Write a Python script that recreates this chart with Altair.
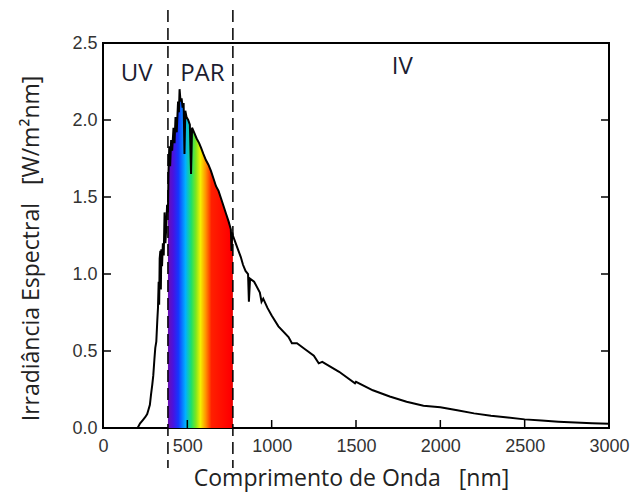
import altair as alt
import pandas as pd

# ---- data ----
wavelength_nm = [205, 220, 235, 250, 262, 270, 278, 285, 292, 298, 305, 310, 316, 322, 326,
                 330, 333, 336, 340, 343, 346, 350, 355, 360, 365, 370, 375, 380, 385, 388,
                 393, 398, 404, 410, 418, 424, 430, 437, 445, 450, 454, 460, 466, 472, 478,
                 483, 488, 495, 505, 515, 522, 528, 540, 555, 570, 581, 595, 610, 625, 640,
                 655, 670, 685, 700, 715, 730, 745, 758, 762, 766, 770, 780, 800, 817, 830,
                 845, 860, 865, 872, 896, 930, 940, 950, 975, 1000, 1040, 1100, 1120, 1150,
                 1200, 1250, 1279, 1300, 1400, 1494, 1500, 1600, 1700, 1800, 1900, 2000,
                 2100, 2200, 2300, 2400, 2500, 2600, 2700, 2800, 2900, 3000]
irradiance = [0.00, 0.03, 0.05, 0.07, 0.09, 0.12, 0.15, 0.22, 0.28, 0.34, 0.45, 0.52, 0.56, 0.70, 0.78,
              0.95, 0.80, 1.10, 1.15, 0.90, 1.16, 1.05, 1.20, 1.12, 1.40, 1.20, 1.30, 1.45, 1.40, 1.65,
              1.83, 1.70, 1.87, 1.80, 1.95, 1.85, 2.02, 1.92, 2.12, 2.05, 2.20, 2.12, 2.14, 2.08, 2.11,
              1.78, 2.06, 2.02, 2.00, 1.97, 1.65, 1.95, 1.92, 1.88, 1.85, 1.82, 1.78, 1.74, 1.71, 1.67,
              1.62, 1.57, 1.54, 1.49, 1.44, 1.39, 1.34, 1.29, 1.15, 1.27, 1.25, 1.22, 1.16, 1.11, 1.06,
              1.02, 1.00, 0.82, 0.97, 0.95, 0.88, 0.82, 0.84, 0.78, 0.73, 0.66, 0.59, 0.55, 0.55,
              0.51, 0.47, 0.42, 0.43, 0.365, 0.29, 0.30, 0.245, 0.205, 0.17, 0.145, 0.135,
              0.115, 0.095, 0.08, 0.068, 0.056, 0.048, 0.041, 0.036, 0.031, 0.028]

par_bounds_nm = [385, 770]
band_labels = ["UV", "PAR", "IV"]
band_label_nm = [199, 589, 1774]
band_label_val = [2.30, 2.30, 2.345]

x_tick_values = [0, 500, 1000, 1500, 2000, 2500, 3000]
y_tick_values = [0.0, 0.5, 1.0, 1.5, 2.0, 2.5]
inner_x_ticks = [500, 1000, 1500, 2000, 2500]
inner_y_ticks = [0.5, 1.0, 1.5, 2.0]

W, H = 506, 385
NB = "\u00a0"

spec = pd.DataFrame({"nm": wavelength_nm, "val": irradiance})
bounds = pd.DataFrame({"nm": par_bounds_nm})
labels = pd.DataFrame({"txt": band_labels, "nm": band_label_nm, "val": band_label_val})
xt = pd.DataFrame({"nm": inner_x_ticks})
yt = pd.DataFrame({"val": inner_y_ticks})

xscale = alt.Scale(domain=[0, 3000], nice=False, zero=False)
yscale = alt.Scale(domain=[0, 2.5], nice=False)

xaxis = alt.Axis(values=x_tick_values, format="d", ticks=False, domain=False, grid=False,
                 labelFont="Liberation Sans", labelFontSize=18, labelColor="#333333",
                 labelPadding=9, labelFlush=False, labelOverlap=False,
                 title="Comprimento de Onda" + NB * 3 + "[nm]", titleFont="Open Sans", titleFontSize=23,
                 titleFontWeight="normal", titleColor="#222222",
                 titleX=248, titleY=57, titleBaseline="alphabetic", titleAnchor="middle")
yaxis = alt.Axis(values=y_tick_values, format=".1f", ticks=False, domain=False, grid=False,
                 labelFont="Liberation Sans", labelFontSize=18, labelColor="#333333",
                 labelPadding=6, labelFlush=False, labelOverlap=False,
                 title="Irradiância Espectral" + NB * 3 + "[W/m²nm]", titleFont="Open Sans", titleFontSize=23,
                 titleFontWeight="normal", titleColor="#222222",
                 titleX=-65, titleY=205, titleBaseline="alphabetic", titleAngle=-90)

rainbow = alt.LinearGradient(
    gradient="linear", x1=0, x2=1, y1=0, y2=0,
    stops=[
        alt.GradientStop(color="#6a0fb0", offset=0.0),
        alt.GradientStop(color="#4a12e0", offset=0.08),
        alt.GradientStop(color="#1436ff", offset=0.16),
        alt.GradientStop(color="#00b0ff", offset=0.27),
        alt.GradientStop(color="#1ee06a", offset=0.36),
        alt.GradientStop(color="#7ee61e", offset=0.43),
        alt.GradientStop(color="#f2f200", offset=0.50),
        alt.GradientStop(color="#ff9400", offset=0.58),
        alt.GradientStop(color="#ff2000", offset=0.67),
        alt.GradientStop(color="#ff0000", offset=0.95),
        alt.GradientStop(color="#e00000", offset=1.0),
    ],
)

base = alt.Chart(spec)

area = base.transform_filter(
    (alt.datum.nm >= par_bounds_nm[0]) & (alt.datum.nm <= par_bounds_nm[1])
).mark_area(color=rainbow, opacity=1).encode(
    x=alt.X("nm:Q", scale=xscale, axis=xaxis),
    y=alt.Y("val:Q", scale=yscale, axis=yaxis),
)

line = base.mark_line(color="black", strokeWidth=2, strokeJoin="miter").encode(
    x=alt.X("nm:Q", scale=xscale, axis=xaxis),
    y=alt.Y("val:Q", scale=yscale, axis=yaxis),
)

dashes = alt.Chart(bounds).mark_rule(color="black", strokeWidth=1.5, strokeDash=[12, 6]).encode(
    x=alt.X("nm:Q", scale=xscale),
    y=alt.value(-33),
    y2=alt.value(H + 40),
)

xticks = alt.Chart(xt).mark_rule(color="black", strokeWidth=1.5).encode(
    x=alt.X("nm:Q", scale=xscale),
    y=alt.value(H),
    y2=alt.value(H - 8),
)
yticks_left = alt.Chart(yt).mark_rule(color="black", strokeWidth=1.5).encode(
    y=alt.Y("val:Q", scale=yscale),
    x=alt.value(0),
    x2=alt.value(8),
)
yticks_right = alt.Chart(yt).mark_rule(color="black", strokeWidth=1.5).encode(
    y=alt.Y("val:Q", scale=yscale),
    x=alt.value(W),
    x2=alt.value(W - 8),
)

texts = alt.Chart(labels).mark_text(font="Open Sans", fontSize=24, color="#1c1c30",
                                    align="center", baseline="middle").encode(
    x=alt.X("nm:Q", scale=xscale),
    y=alt.Y("val:Q", scale=yscale),
    text="txt:N",
)

chart = alt.layer(area, line, xticks, yticks_left, yticks_right, texts, dashes).properties(
    width=W, height=H,
    autosize=alt.AutoSizeParams(type="none"),
    padding={"left": 95, "top": 35, "right": 21, "bottom": 65},
    background="white",
).configure_view(stroke="black", strokeWidth=2)

chart.save("out.html", embed_options={"renderer": "svg", "actions": False})
